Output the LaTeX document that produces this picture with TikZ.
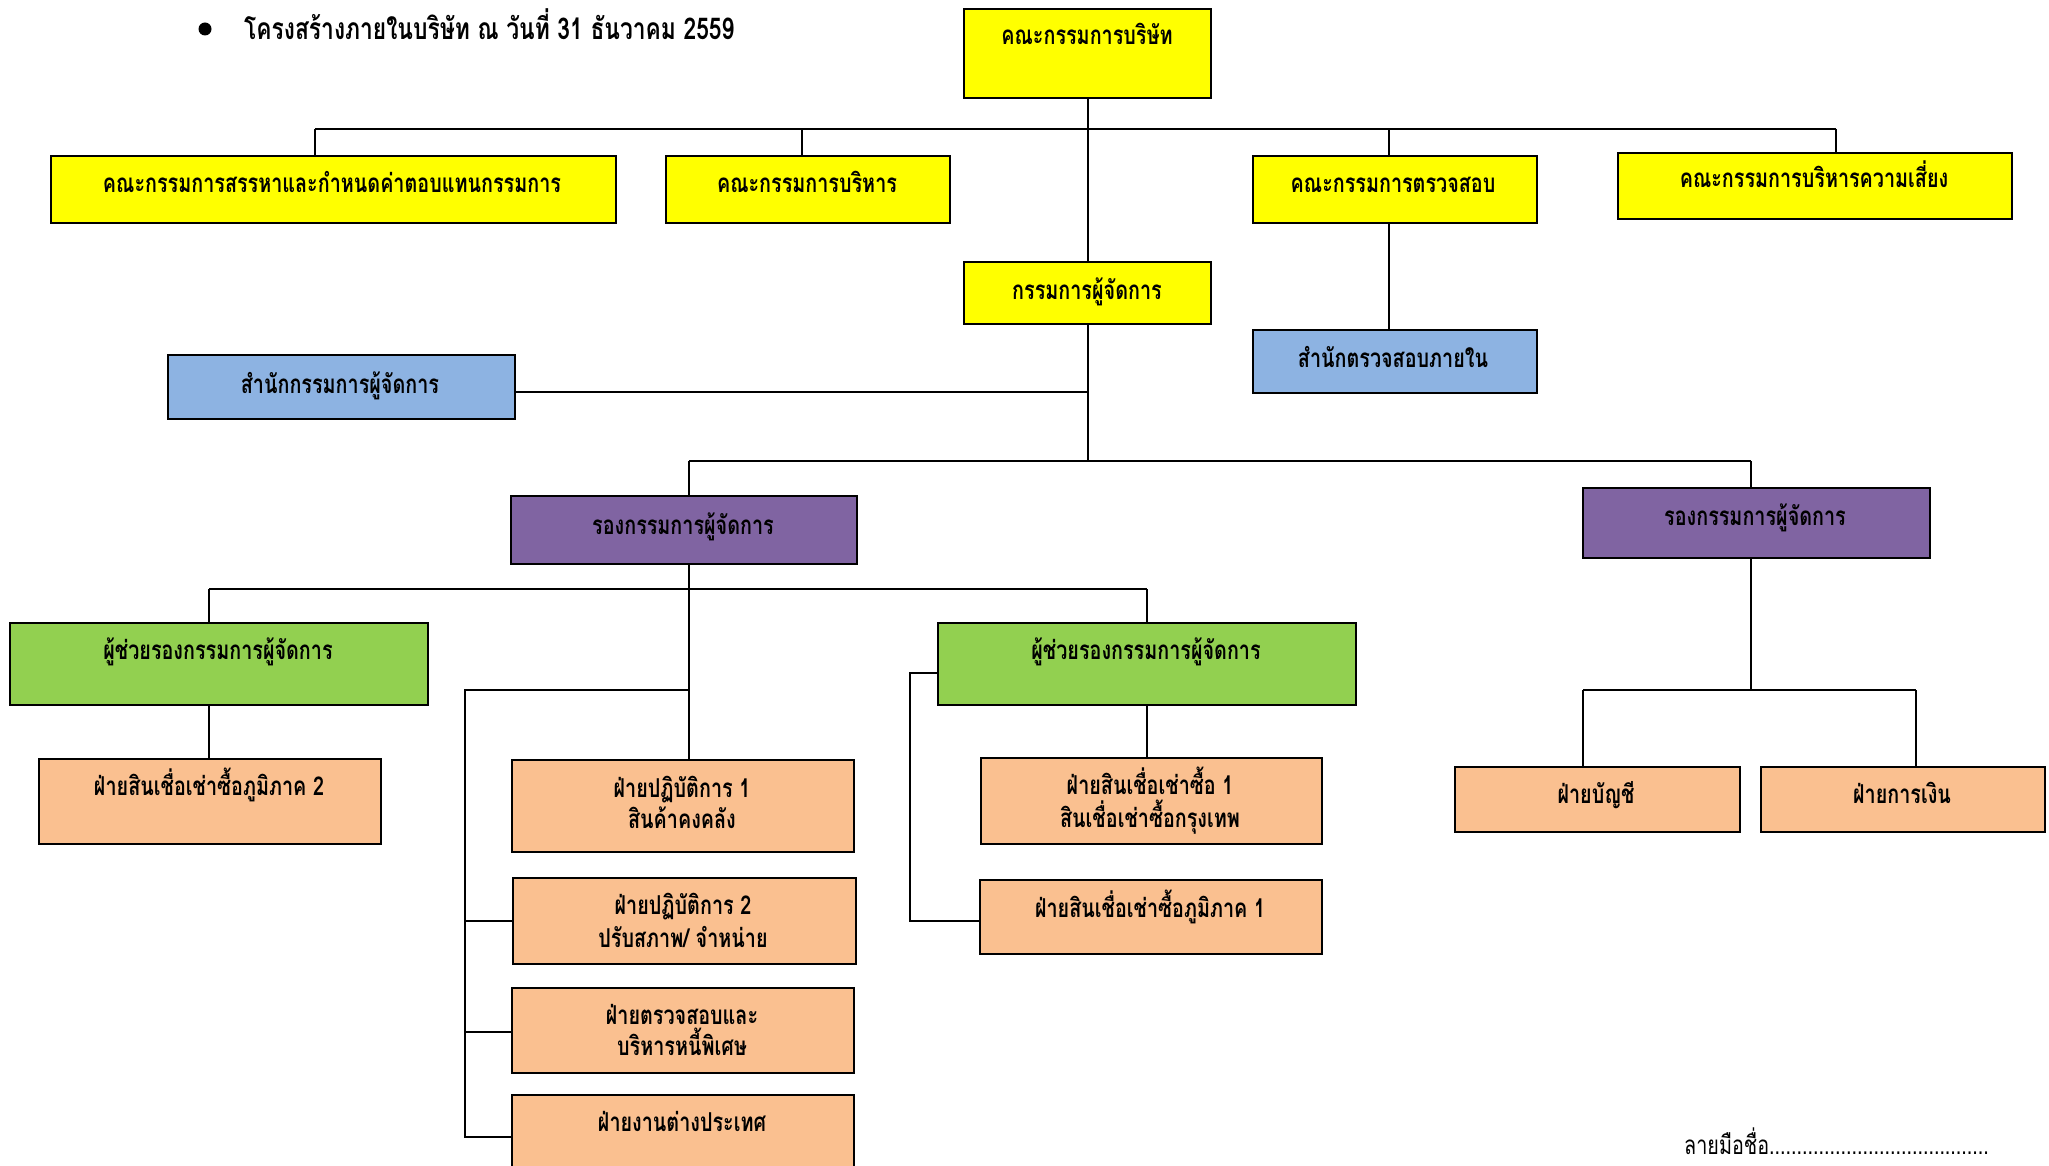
\documentclass[tikz,border=0pt]{standalone}
\usepackage{fontspec}
\newfontfamily\thai[Script=Thai,FakeStretch=0.76]{Loma}
\newfontfamily\thaititle[Script=Thai,FakeStretch=0.76]{Loma}
\definecolor{cyel}{HTML}{FFFF00}
\definecolor{cblue}{HTML}{8DB3E2}
\definecolor{cpurp}{HTML}{8064A2}
\definecolor{cgreen}{HTML}{92D050}
\definecolor{corange}{HTML}{FAC090}
\newcommand\mkbox[6]{%
  \node[orgbox,fill=#2,minimum width={#5-#3},minimum height={#6-#4},anchor=north west] (#1) at (#3,#4) {};}
\begin{document}
\begin{tikzpicture}[x=1pt,y=-1pt,
  orgbox/.style={draw=black,line width=2.2pt,inner sep=0pt},
  txt/.style={font=\thai\bfseries\fontsize{26}{30}\selectfont,inner sep=0pt,anchor=base},
  conn/.style={draw=black,line width=1.8pt,line join=miter}]
\useasboundingbox (0,0) rectangle (2049,1166);
\fill[white] (0,0) rectangle (2049,1166);
\clip (0,0) rectangle (2049,1166);

% title
\fill[black] (205,29) circle[radius=6.5] coordinate (bullet);
\node[font=\thaititle\bfseries\fontsize{30}{34}\selectfont,inner sep=0pt,anchor=base west] (title) at (244,40) {โครงสร้างภายในบริษัท ณ วันที่ 31 ธันวาคม 2559};

% boxes
\mkbox{top}{cyel}{963}{8}{1210}{97}
\mkbox{b1}{cyel}{50}{155}{615}{222}
\mkbox{b2}{cyel}{665}{155}{949}{222}
\mkbox{b3}{cyel}{1252}{155}{1536}{222}
\mkbox{b4}{cyel}{1617}{152}{2011}{218}
\mkbox{md}{cyel}{963}{261}{1210}{323}
\mkbox{aud}{cblue}{1252}{329}{1536}{392}
\mkbox{mdoff}{cblue}{167}{354}{514}{418}
\mkbox{vp1}{cpurp}{510}{495}{856}{563}
\mkbox{vp2}{cpurp}{1582}{487}{1929}{557}
\mkbox{g1}{cgreen}{9}{622}{427}{704}
\mkbox{g2}{cgreen}{937}{622}{1355}{704}
\mkbox{reg2}{corange}{38}{758}{380}{843}
\mkbox{ops1}{corange}{511}{759}{853}{851}
\mkbox{ops2}{corange}{512}{877}{855}{963}
\mkbox{spec}{corange}{511}{987}{853}{1072}
\mkbox{for}{corange}{511}{1094}{853}{1190}
\mkbox{hire1}{corange}{980}{757}{1321}{843}
\mkbox{reg1}{corange}{979}{879}{1321}{953}
\mkbox{acc}{corange}{1454}{766}{1739}{831}
\mkbox{fin}{corange}{1760}{766}{2044}{831}

% texts
\node[txt] (top-t) at (1087,45) {คณะกรรมการบริษัท};
\node[txt] (b1-t) at (332,193) {คณะกรรมการสรรหาและกำหนดค่าตอบแทนกรรมการ};
\node[txt] (b2-t) at (807,193) {คณะกรรมการบริหาร};
\node[txt] (b3-t) at (1393,193) {คณะกรรมการตรวจสอบ};
\node[txt] (b4-t) at (1814,188) {คณะกรรมการบริหารความเสี่ยง};
\node[txt] (md-t) at (1087,299) {กรรมการผู้จัดการ};
\node[txt] (aud-t) at (1393,367) {สำนักตรวจสอบภายใน};
\node[txt] (mdoff-t) at (340,393) {สำนักกรรมการผู้จัดการ};
\node[txt] (vp1-t) at (683,534) {รองกรรมการผู้จัดการ};
\node[txt] (vp2-t) at (1755,525) {รองกรรมการผู้จัดการ};
\node[txt] (g1-t) at (218,659) {ผู้ช่วยรองกรรมการผู้จัดการ};
\node[txt] (g2-t) at (1146,659) {ผู้ช่วยรองกรรมการผู้จัดการ};
\node[txt] (reg2-t) at (209,795) {ฝ่ายสินเชื่อเช่าซื้อภูมิภาค 2};
\node[txt] (ops1-a) at (682,797) {ฝ่ายปฏิบัติการ 1};
\node[txt] (ops1-b) at (682,828) {สินค้าคงคลัง};
\node[txt] (ops2-a) at (683,914) {ฝ่ายปฏิบัติการ 2};
\node[txt] (ops2-b) at (683,947) {ปรับสภาพ/ จำหน่าย};
\node[txt] (spec-a) at (682,1024) {ฝ่ายตรวจสอบและ};
\node[txt] (spec-b) at (682,1055) {บริหารหนี้พิเศษ};
\node[txt] (for-t) at (682,1131) {ฝ่ายงานต่างประเทศ};
\node[txt] (hire1-a) at (1150,794) {ฝ่ายสินเชื่อเช่าซื้อ 1};
\node[txt] (hire1-b) at (1150,827) {สินเชื่อเช่าซื้อกรุงเทพ};
\node[txt] (reg1-t) at (1150,917) {ฝ่ายสินเชื่อเช่าซื้อภูมิภาค 1};
\node[txt] (acc-t) at (1596,803) {ฝ่ายบัญชี};
\node[txt] (fin-t) at (1902,803) {ฝ่ายการเงิน};
\node[font=\thai\fontsize{26}{30}\selectfont,inner sep=0pt,anchor=base west] (sig) at (1684,1154) {ลายมือชื่อ........................................};

% connectors
\coordinate (busL) at (315,129);
\coordinate (busR) at (1836,129);
\coordinate (d2) at (802,129);
\coordinate (d3) at (1389,129);
\draw[conn] (busL) -- (busR);
\draw[conn] (top.south) -- (md.north);
\draw[conn] (busL) -- (busL |- b1.north);
\draw[conn] (d2) -- (d2 |- b2.north);
\draw[conn] (d3) -- (d3 |- b3.north);
\draw[conn] (d3 |- b3.south) -- (d3 |- aud.north);
\draw[conn] (busR) -- (busR |- b4.north);

\coordinate (bus2L) at (689,461);
\coordinate (bus2R) at (1751,461);
\draw[conn] (md.south) -- (md.south |- bus2L);
\coordinate (mdj) at (514,392);
\draw[conn] (mdj) -- (mdj -| md.south);
\draw[conn] (bus2L) -- (bus2R);
\draw[conn] (bus2L) -- (bus2L |- vp1.north);
\draw[conn] (bus2R) -- (bus2R |- vp2.north);
\draw[conn] (bus2L |- vp1.south) -- (bus2L |- ops1.north);

\coordinate (bus3L) at (209,589);
\coordinate (bus3R) at (1147,589);
\draw[conn] (bus3L) -- (bus3R);
\draw[conn] (bus3L) -- (bus3L |- g1.north);
\draw[conn] (bus3R) -- (bus3R |- g2.north);
\draw[conn] (bus3L |- g1.south) -- (bus3L |- reg2.north);
\draw[conn] (bus3R |- g2.south) -- (bus3R |- hire1.north);

\coordinate (lb) at (465,690);
\draw[conn] (lb -| bus2L) -- (lb) -- (lb |- 0,1137) -- (for.west |- 0,1137);
\draw[conn] (lb |- ops2.west) -- (ops2.west);
\draw[conn] (lb |- 0,1032) -- (spec.west |- 0,1032);

\coordinate (rb) at (910,673);
\draw[conn] (rb -| g2.west) -- (rb) -- (rb |- 0,921) -- (reg1.west |- 0,921);

\coordinate (b4L) at (1583,690);
\coordinate (b4R) at (1916,690);
\draw[conn] (bus2R |- vp2.south) -- (bus2R |- b4L);
\draw[conn] (b4L) -- (b4R);
\draw[conn] (b4L) -- (b4L |- acc.north);
\draw[conn] (b4R) -- (b4R |- fin.north);
\end{tikzpicture}
\end{document}
